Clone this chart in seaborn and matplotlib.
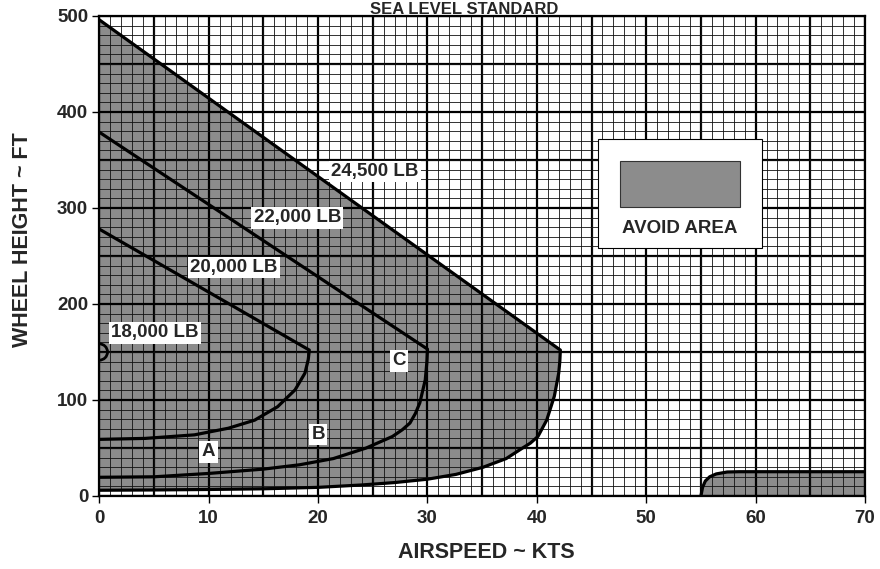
import numpy as np
import pandas as pd
import matplotlib
matplotlib.use("Agg")
import matplotlib.pyplot as plt
from matplotlib.patches import Rectangle, Arc
from matplotlib.ticker import MultipleLocator
import seaborn as sns

# ---- data ----
x_ticks = [0, 10, 20, 30, 40, 50, 60, 70]
y_ticks = [0, 100, 200, 300, 400, 500]

# 24,500 LB boundary: upper line then lower curve back to x=0 (closed avoid area)
w245_x = [0, 42.15, 42.1, 42.0, 41.6, 40.9, 40.5, 40.1, 39.4, 38.7, 37.2, 35.1, 32.6, 30.0, 27.0, 24.0, 20.0, 15.0, 10.0, 5.0, 0]
w245_y = [496, 152, 140, 128, 104, 79, 70.5, 62, 55, 50, 39, 30, 22.5, 17.5, 14.0, 11.5, 9.0, 7.5, 6.8, 6.3, 6.0]

# 22,000 LB (C)
w220_x = [0, 30.0, 29.95, 29.8, 29.3, 28.9, 28.4, 27.7, 26.8, 24.4, 21.4, 18.3, 15.0, 10.0, 5.0, 0]
w220_y = [379, 153, 140, 121, 97, 86, 76, 69, 62, 50, 39, 32.5, 28.0, 23.5, 20.0, 19.5]

# 20,000 LB (A)
w200_x = [0, 19.2, 19.1, 18.8, 17.9, 16.3, 14.2, 11.8, 8.7, 4.2, 0]
w200_y = [278, 152, 142, 128, 110.6, 93, 79, 70.6, 63.7, 60, 59]

# second avoid area (high speed, low height)
hs_x = [55.0, 55.15, 55.4, 55.8, 56.4, 57.4, 58.5, 70]
hs_y = [0, 9, 15.6, 20, 23, 25, 25.3, 25.3]

labels = [
    ("24,500 LB", 25.2, 338),
    ("22,000 LB", 18.1, 290),
    ("20,000 LB", 12.3, 238),
    ("18,000 LB", 5.1, 170),
    ("A", 10.0, 46),
    ("B", 20.0, 64),
    ("C", 27.4, 141),
]

# ---- style ----
sns.set_theme(style="white")
plt.rcParams["font.family"] = ["Liberation Sans", "DejaVu Sans"]
plt.rcParams["font.weight"] = "bold"

fill_c = "#8c8c8c"

fig = plt.figure(figsize=(8.8, 5.69), dpi=100)
ax = fig.add_axes([99.3 / 880, (569 - 496) / 569, (865 - 99.3) / 880, (496 - 16) / 569])

ax.set_xlim(0, 70)
ax.set_ylim(0, 500)

# avoid areas
ax.fill(w245_x, w245_y, color=fill_c, zorder=1, lw=0)
ax.fill_between(hs_x, hs_y, 0, color=fill_c, zorder=1, lw=0)

# grid
ax.xaxis.set_major_locator(MultipleLocator(10))
ax.yaxis.set_major_locator(MultipleLocator(100))
ax.xaxis.set_minor_locator(MultipleLocator(1))
ax.yaxis.set_minor_locator(MultipleLocator(10))
ax.grid(which="minor", color="#111111", lw=0.6, zorder=2)
ax.grid(which="major", color="black", lw=1.6, zorder=2)
for v in np.arange(5, 70, 10):
    ax.axvline(v, color="black", lw=1.6, zorder=2)
for v in np.arange(50, 500, 100):
    ax.axhline(v, color="black", lw=1.6, zorder=2)
ax.set_axisbelow(False)

# curves
for cx, cy in [(w245_x, w245_y), (w220_x, w220_y), (w200_x, w200_y)]:
    sns.lineplot(x=cx, y=cy, sort=False, estimator=None, color="black", lw=2.3, ax=ax, zorder=4)
sns.lineplot(x=hs_x, y=hs_y, sort=False, estimator=None, color="black", lw=2.3, ax=ax, zorder=4)

# 18,000 LB small arc
ax.add_patch(Arc((0, 150), 1.5, 17, theta1=-90, theta2=90, color="black", lw=2.0, zorder=4))

for txt, lx, ly in labels:
    ax.text(lx, ly, txt, ha="center", va="center", fontsize=13.5, fontweight="bold",
            zorder=6, bbox=dict(facecolor="white", edgecolor="none", pad=1.8))

# legend box
ax.add_patch(Rectangle((0.651, 0.516), 0.215, 0.227, transform=ax.transAxes,
                       facecolor="white", edgecolor="black", lw=0.8, zorder=6))
ax.add_patch(Rectangle((0.680, 0.603), 0.157, 0.094, transform=ax.transAxes,
                       facecolor=fill_c, edgecolor="#333333", lw=0.8, zorder=7))
ax.text(0.7585, 0.557, "AVOID AREA", transform=ax.transAxes, ha="center", va="center",
        fontsize=13.5, fontweight="bold", zorder=7)

# axes frame / ticks
for s in ax.spines.values():
    s.set_color("black")
    s.set_linewidth(1.6)
    s.set_zorder(5)
ax.tick_params(which="major", direction="out", length=5, width=1, color="black",
               labelsize=13.5, bottom=True, left=True)
ax.tick_params(axis="x", which="major", pad=5)
ax.tick_params(axis="y", which="major", pad=3)
ax.tick_params(which="minor", length=0)
ax.set_xticks(x_ticks)
ax.set_yticks(y_ticks)
ax.set_xticklabels([str(v) for v in x_ticks], fontweight="bold")
ax.set_yticklabels([str(v) for v in y_ticks], fontweight="bold")

ax.set_xlabel("AIRSPEED ~ KTS", fontsize=15.5, fontweight="bold")
ax.set_ylabel("WHEEL HEIGHT ~ FT", fontsize=15.5, fontweight="bold")
ax.xaxis.set_label_coords((486 - 99.3) / (865 - 99.3), (496 - 552) / 480, transform=ax.transAxes)
ax.yaxis.set_label_coords((22.5 - 99.3) / (865 - 99.3), (496 - 240) / 480, transform=ax.transAxes)
ax.xaxis.label.set_va("center")
ax.yaxis.label.set_va("center")

fig.text(464 / 880, 1 - 14 / 569, "SEA LEVEL STANDARD", ha="center", va="baseline",
         fontsize=12, fontweight="bold")

fig.savefig("out.png", dpi=100)
